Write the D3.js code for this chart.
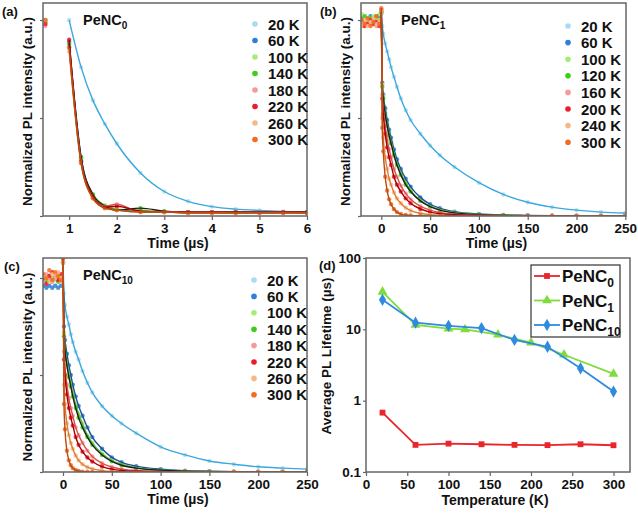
<!DOCTYPE html>
<html>
<head>
<meta charset="utf-8">
<script src="https://cdn.jsdelivr.net/npm/d3@7"></script>
<style>
body { margin: 0; background: #fff; }
text { font-family: "Liberation Sans", Arial, sans-serif; font-weight: bold; fill: #111; }
</style>
</head>
<body>
<div id="chart"></div>
<script>
// ---- data ----
const tempsA = ["20 K", "60 K", "100 K", "140 K", "180 K", "220 K", "260 K", "300 K"];
const tempsB = ["20 K", "60 K", "100 K", "120 K", "160 K", "200 K", "240 K", "300 K"];
const tempsC = ["20 K", "60 K", "100 K", "140 K", "180 K", "220 K", "260 K", "300 K"];

// (a) PeNC0, time in us
const timeA = [0.5, 1, 1.25, 1.5, 1.75, 2, 2.5, 3, 3.5, 4, 4.5, 5, 5.5, 6];
const decayA = [
    [1.0, 1.0, 0.76, 0.59, 0.47, 0.37, 0.22, 0.125, 0.075, 0.048, 0.035, 0.028, 0.023, 0.02],
    [0.99, 0.89, 0.3, 0.1, 0.05, 0.03, 0.025, 0.02, 0.02, 0.02, 0.02, 0.02, 0.02, 0.02],
    [0.98, 0.87, 0.29, 0.11, 0.055, 0.035, 0.03, 0.022, 0.02, 0.02, 0.02, 0.02, 0.02, 0.02],
    [1.0, 0.88, 0.3, 0.11, 0.05, 0.03, 0.04, 0.025, 0.02, 0.02, 0.02, 0.02, 0.02, 0.02],
    [0.97, 0.86, 0.28, 0.1, 0.05, 0.06, 0.02, 0.02, 0.02, 0.02, 0.015, 0.02, 0.02, 0.015],
    [0.98, 0.9, 0.28, 0.1, 0.045, 0.05, 0.025, 0.02, 0.02, 0.02, 0.02, 0.02, 0.02, 0.02],
    [1.0, 0.84, 0.27, 0.09, 0.04, 0.03, 0.02, 0.02, 0.015, 0.015, 0.015, 0.015, 0.015, 0.015],
    [1.0, 0.86, 0.27, 0.09, 0.04, 0.03, 0.02, 0.02, 0.015, 0.015, 0.015, 0.015, 0.015, 0.015]
];

// (b) PeNC1
const timeB = [-20, -17, -14, -11, -8, -5, -2, 0, 1, 2, 4, 6, 8, 10, 13, 16, 20, 25, 30, 40, 50, 60, 75, 100, 125, 150, 175, 200, 225, 250];
const decayB = [
    [1.0, 0.99, 1.01, 1.0, 0.99, 1.0, 1.02, 1.03, 0.97, 0.93, 0.88, 0.84, 0.8, 0.76, 0.71, 0.66, 0.6, 0.54, 0.49, 0.42, 0.36, 0.31, 0.25, 0.17, 0.11, 0.07, 0.045, 0.03, 0.02, 0.015],
    [1.01, 0.99, 1.0, 1.02, 1.0, 0.99, 1.01, 1.04, 0.68, 0.62, 0.55, 0.49, 0.44, 0.4, 0.34, 0.29, 0.24, 0.19, 0.15, 0.095, 0.06, 0.04, 0.022, 0.01, 0.005, 0.003, 0.002, 0.001, 0, 0],
    [1.03, 1.02, 1.0, 1.01, 1.02, 1.0, 1.03, 1.04, 0.67, 0.61, 0.53, 0.47, 0.42, 0.38, 0.32, 0.27, 0.22, 0.17, 0.13, 0.08, 0.05, 0.033, 0.018, 0.008, 0.004, 0.002, 0.001, 0, 0, 0],
    [1.0, 1.02, 0.99, 1.01, 1.0, 1.02, 1.0, 1.04, 0.66, 0.6, 0.52, 0.46, 0.41, 0.37, 0.31, 0.26, 0.21, 0.16, 0.125, 0.077, 0.048, 0.03, 0.016, 0.007, 0.003, 0.002, 0.001, 0, 0, 0],
    [0.97, 0.99, 1.0, 0.98, 1.0, 0.97, 0.99, 1.04, 0.62, 0.55, 0.46, 0.39, 0.34, 0.3, 0.24, 0.2, 0.155, 0.115, 0.085, 0.05, 0.03, 0.018, 0.009, 0.004, 0.002, 0.001, 0, 0, 0, 0],
    [0.99, 0.97, 0.98, 1.0, 0.98, 0.99, 0.97, 1.05, 0.6, 0.52, 0.42, 0.35, 0.3, 0.26, 0.2, 0.16, 0.125, 0.09, 0.065, 0.036, 0.02, 0.012, 0.006, 0.003, 0.001, 0, 0, 0, 0, 0],
    [0.98, 1.0, 0.97, 0.99, 1.01, 0.98, 1.0, 1.05, 0.5, 0.4, 0.3, 0.24, 0.19, 0.16, 0.12, 0.09, 0.065, 0.042, 0.028, 0.014, 0.007, 0.004, 0.002, 0.001, 0, 0, 0, 0, 0, 0],
    [1.0, 0.98, 1.01, 0.97, 0.99, 1.02, 0.98, 1.06, 0.45, 0.33, 0.2, 0.13, 0.085, 0.06, 0.035, 0.02, 0.01, 0.005, 0.003, 0.001, 0, 0, 0, 0, 0, 0, 0, 0, 0, 0]
];

// (c) PeNC10
const timeC = [-20, -17, -14, -11, -8, -5, -2, 0, 1, 2, 4, 6, 8, 10, 13, 16, 20, 25, 30, 40, 50, 60, 75, 100, 125, 150, 175, 200, 225, 250];
const decayC = [
    [1.0, 0.99, 1.0, 0.98, 1.0, 0.99, 1.0, 1.08, 0.92, 0.86, 0.8, 0.76, 0.71, 0.67, 0.62, 0.58, 0.52, 0.46, 0.41, 0.34, 0.29, 0.25, 0.2, 0.13, 0.088, 0.057, 0.04, 0.027, 0.02, 0.015],
    [0.96, 0.95, 0.96, 0.95, 0.96, 0.95, 0.96, 1.08, 0.75, 0.68, 0.61, 0.55, 0.5, 0.45, 0.39, 0.34, 0.29, 0.23, 0.18, 0.12, 0.075, 0.05, 0.03, 0.014, 0.007, 0.004, 0.002, 0.001, 0, 0],
    [0.99, 1.0, 0.98, 1.0, 0.99, 1.01, 0.99, 1.08, 0.72, 0.65, 0.57, 0.51, 0.46, 0.41, 0.35, 0.3, 0.25, 0.19, 0.15, 0.095, 0.06, 0.04, 0.022, 0.01, 0.005, 0.003, 0.001, 0, 0, 0],
    [1.0, 0.98, 1.01, 0.99, 1.0, 0.98, 1.0, 1.08, 0.7, 0.63, 0.55, 0.49, 0.44, 0.39, 0.33, 0.28, 0.23, 0.18, 0.14, 0.088, 0.055, 0.035, 0.02, 0.009, 0.004, 0.002, 0.001, 0, 0, 0],
    [0.99, 1.02, 1.0, 0.98, 1.01, 1.0, 0.98, 1.08, 0.62, 0.54, 0.45, 0.38, 0.33, 0.29, 0.23, 0.19, 0.15, 0.11, 0.08, 0.045, 0.026, 0.015, 0.008, 0.003, 0.001, 0, 0, 0, 0, 0],
    [1.0, 0.97, 1.01, 1.03, 1.0, 0.99, 1.02, 1.1, 0.58, 0.5, 0.4, 0.33, 0.28, 0.24, 0.18, 0.14, 0.105, 0.075, 0.054, 0.028, 0.015, 0.008, 0.004, 0.002, 0.001, 0, 0, 0, 0, 0],
    [1.01, 1.0, 0.98, 1.02, 1.0, 1.03, 1.0, 1.1, 0.45, 0.35, 0.25, 0.19, 0.15, 0.12, 0.085, 0.06, 0.04, 0.025, 0.016, 0.007, 0.003, 0.002, 0.001, 0, 0, 0, 0, 0, 0, 0],
    [1.02, 1.0, 1.04, 0.99, 1.03, 1.01, 0.99, 1.1, 0.35, 0.22, 0.11, 0.06, 0.035, 0.02, 0.01, 0.005, 0.002, 0.001, 0, 0, 0, 0, 0, 0, 0, 0, 0, 0, 0, 0]
];

// (d) average PL lifetime (us) vs temperature (K)
const tempD0 = [20, 60, 100, 140, 180, 220, 260, 300];
const lifeD0 = [0.68, 0.24, 0.25, 0.245, 0.24, 0.238, 0.245, 0.237];
const tempD1 = [20, 60, 100, 120, 160, 200, 240, 300];
const lifeD1 = [33.6, 11.5, 10.2, 10.0, 8.4, 6.5, 4.4, 2.37];
const tempD10 = [20, 60, 100, 140, 180, 220, 260, 300];
const lifeD10 = [25.9, 12.4, 11.2, 10.4, 7.1, 5.7, 2.85, 1.34];

const timeTicksA = [1, 2, 3, 4, 5, 6];
const timeTicksBC = [0, 50, 100, 150, 200, 250];
const tempTicks = [0, 50, 100, 150, 200, 250, 300];
const lifeTicks = [0.1, 1, 10, 100];

// ---- styles ----
const pointColors = ["#a9dcf0", "#2f7fd6", "#a6ec7a", "#3ccf1a", "#f59a9a", "#eb1c2c", "#f7b888", "#f26b1f"];
const lineColors = ["#3aa7df", "#1b4f9c", "#5cbf2a", "#1f1f1f", "#d8504c", "#a80000", "#e07a2e", "#b84a10"];
const frameColor = "#666";

const width = 638, height = 513;
const svg = d3.select("#chart").append("svg")
    .attr("width", width)
    .attr("height", height);

function subLabel(g, x, y, main, sub, size, subSize, anchor) {
    const t = g.append("text")
        .attr("x", x).attr("y", y)
        .attr("font-size", size)
        .attr("text-anchor", anchor || "start");
    t.append("tspan").text(main);
    t.append("tspan").attr("dy", size * 0.3).attr("font-size", subSize).text(sub);
    return t;
}

function frame(box) {
    svg.append("rect")
        .attr("x", box.x0).attr("y", box.y0)
        .attr("width", box.x1 - box.x0).attr("height", box.y1 - box.y0)
        .attr("fill", "none")
        .attr("stroke", frameColor)
        .attr("stroke-width", 1.5);
}

function styleAxis(g, size) {
    g.select(".domain").remove();
    g.selectAll(".tick line").attr("stroke", frameColor).attr("stroke-width", 1.2);
    g.selectAll(".tick text")
        .attr("font-size", size)
        .attr("font-family", "Liberation Sans, Arial, sans-serif")
        .attr("font-weight", "bold")
        .attr("fill", "#111");
}

function drawDecay(cfg) {
    const box = cfg.box;
    const x = d3.scaleLinear().domain(cfg.xDomain).range([box.x0, box.x1]);
    const y = d3.scaleLinear().domain(cfg.yDomain).range([box.y1, box.y0]);

    const clipId = "clip" + cfg.id;
    svg.append("clipPath").attr("id", clipId)
        .append("rect")
        .attr("x", box.x0).attr("y", box.y0)
        .attr("width", box.x1 - box.x0).attr("height", box.y1 - box.y0);

    const plot = svg.append("g").attr("clip-path", `url(#${clipId})`);

    // scatter
    cfg.values.forEach((vals, i) => {
        plot.append("g").selectAll("circle")
            .data(vals.map((v, k) => [cfg.times[k], v]))
            .enter()
            .append("circle")
            .attr("cx", d => x(d[0]))
            .attr("cy", d => y(d[1]))
            .attr("r", 2.2)
            .attr("fill", pointColors[i])
            .attr("opacity", 0.85);
    });

    // fitted curves
    const line = d3.line()
        .x(d => x(d[0]))
        .y(d => y(d[1]))
        .curve(d3.curveMonotoneX);
    cfg.values.forEach((vals, i) => {
        const pts = vals.map((v, k) => [cfg.times[k], v]).filter(d => d[0] >= cfg.lineStart);
        plot.append("path")
            .datum(pts)
            .attr("d", line)
            .attr("fill", "none")
            .attr("stroke", lineColors[i])
            .attr("stroke-width", 1.4);
    });

    // axes
    const gx = svg.append("g")
        .attr("transform", `translate(0, ${box.y1})`)
        .call(d3.axisBottom(x).tickValues(cfg.xTicks).tickSize(4).tickPadding(3).tickFormat(d3.format("d")));
    styleAxis(gx, 13.5);
    const gy = svg.append("g")
        .attr("transform", `translate(${box.x0}, 0)`)
        .call(d3.axisLeft(y).tickValues([0, 0.5, 1]).tickSize(3).tickFormat(""));
    styleAxis(gy, 13);
    frame(box);

    // axis titles
    svg.append("text")
        .attr("x", (box.x0 + box.x1) / 2 + 3).attr("y", box.y1 + 32)
        .attr("text-anchor", "middle").attr("font-size", 14)
        .text("Time (µs)");
    svg.append("text")
        .attr("transform", `translate(${box.x0 - 11}, ${(box.y0 + box.y1) / 2 + 2}) rotate(-90)`)
        .attr("text-anchor", "middle").attr("font-size", 13.5)
        .text("Normalized PL intensity (a.u.)");

    // panel letter and sample label
    svg.append("text").attr("x", cfg.letterX).attr("y", box.y0 + 13)
        .attr("font-size", 13).text(cfg.letter);
    subLabel(svg, box.x0 + 40, box.y0 + 22, "PeNC", cfg.sub, 14.5, 10);

    // legend
    cfg.labels.forEach((lab, i) => {
        const ly = cfg.legY + i * cfg.legStep;
        svg.append("circle")
            .attr("cx", cfg.legX).attr("cy", ly)
            .attr("r", 2.8).attr("fill", pointColors[i]);
        svg.append("text")
            .attr("x", cfg.legX + 13).attr("y", ly + 5.5)
            .attr("font-size", 15)
            .text(lab);
    });
}

drawDecay({
    id: "a", letter: "(a)", letterX: 2, sub: "0",
    box: { x0: 43, x1: 307, y0: 3, y1: 216 },
    xDomain: [0.45, 6], yDomain: [0, 1.087],
    times: timeA, values: decayA, labels: tempsA,
    xTicks: timeTicksA, lineStart: 1,
    legX: 255, legY: 24, legStep: 16.5
});

drawDecay({
    id: "b", letter: "(b)", letterX: 320, sub: "1",
    box: { x0: 361, x1: 626, y0: 3, y1: 216 },
    xDomain: [-20.8, 250.7], yDomain: [0, 1.087],
    times: timeB, values: decayB, labels: tempsB,
    xTicks: timeTicksBC, lineStart: 0,
    legX: 568, legY: 26, legStep: 16.6
});

drawDecay({
    id: "c", letter: "(c)", letterX: 4, sub: "10",
    box: { x0: 43, x1: 307, y0: 258, y1: 472 },
    xDomain: [-20.5, 250], yDomain: [0, 1.103],
    times: timeC, values: decayC, labels: tempsC,
    xTicks: timeTicksBC, lineStart: 0,
    legX: 254, legY: 280, legStep: 16.4
});

// ---- panel (d) ----
const boxD = { x0: 366, x1: 630, y0: 258, y1: 472 };
const xD = d3.scaleLinear().domain([0, 320]).range([boxD.x0, boxD.x1]);
const yD = d3.scaleLog().domain([0.1, 100]).range([boxD.y1, boxD.y0]);

const seriesD = [
    { name: "0", temps: tempD0, vals: lifeD0, color: "#e8262b", symbol: d3.symbolSquare, size: 34 },
    { name: "1", temps: tempD1, vals: lifeD1, color: "#7fdc3c", symbol: d3.symbolTriangle, size: 42 },
    { name: "10", temps: tempD10, vals: lifeD10, color: "#2f8be0", symbol: d3.symbolDiamond, size: 44 }
];

const lineD = d3.line().x(d => xD(d[0])).y(d => yD(d[1]));
seriesD.forEach(s => {
    const pts = s.temps.map((t, k) => [t, s.vals[k]]);
    svg.append("path").datum(pts)
        .attr("d", lineD)
        .attr("fill", "none")
        .attr("stroke", s.color)
        .attr("stroke-width", 1.8);
    svg.append("g").selectAll("path")
        .data(pts)
        .enter()
        .append("path")
        .attr("transform", d => `translate(${xD(d[0])}, ${yD(d[1])})`)
        .attr("d", d3.symbol().type(s.symbol).size(s.size))
        .attr("fill", s.color);
});

const gxD = svg.append("g")
    .attr("transform", `translate(0, ${boxD.y1})`)
    .call(d3.axisBottom(xD).tickValues(tempTicks).tickSize(4).tickPadding(3));
styleAxis(gxD, 13.5);
const gyD = svg.append("g")
    .attr("transform", `translate(${boxD.x0}, 0)`)
    .call(d3.axisLeft(yD).tickValues(lifeTicks).tickSize(3).tickPadding(2).tickFormat(d3.format("")));
styleAxis(gyD, 13.5);
frame(boxD);

svg.append("text")
    .attr("x", 495).attr("y", 505)
    .attr("text-anchor", "middle").attr("font-size", 14)
    .text("Temperature (K)");
svg.append("text")
    .attr("transform", `translate(331, 356) rotate(-90)`)
    .attr("text-anchor", "middle").attr("font-size", 13.5)
    .text("Average PL Lifetime (µs)");
svg.append("text").attr("x", 319).attr("y", 270)
    .attr("font-size", 13).text("(d)");

// legend of (d)
svg.append("rect")
    .attr("x", 531).attr("y", 265)
    .attr("width", 89).attr("height", 72)
    .attr("fill", "#fff")
    .attr("stroke", "#333")
    .attr("stroke-width", 1.2);
seriesD.forEach((s, i) => {
    const ly = 276 + i * 24.5;
    svg.append("line")
        .attr("x1", 534).attr("x2", 560)
        .attr("y1", ly).attr("y2", ly)
        .attr("stroke", s.color).attr("stroke-width", 1.8);
    svg.append("path")
        .attr("transform", `translate(547, ${ly})`)
        .attr("d", d3.symbol().type(s.symbol).size(s.size))
        .attr("fill", s.color);
    subLabel(svg, 562, ly + 6, "PeNC", s.name, 17, 12);
});
</script>
</body>
</html>
